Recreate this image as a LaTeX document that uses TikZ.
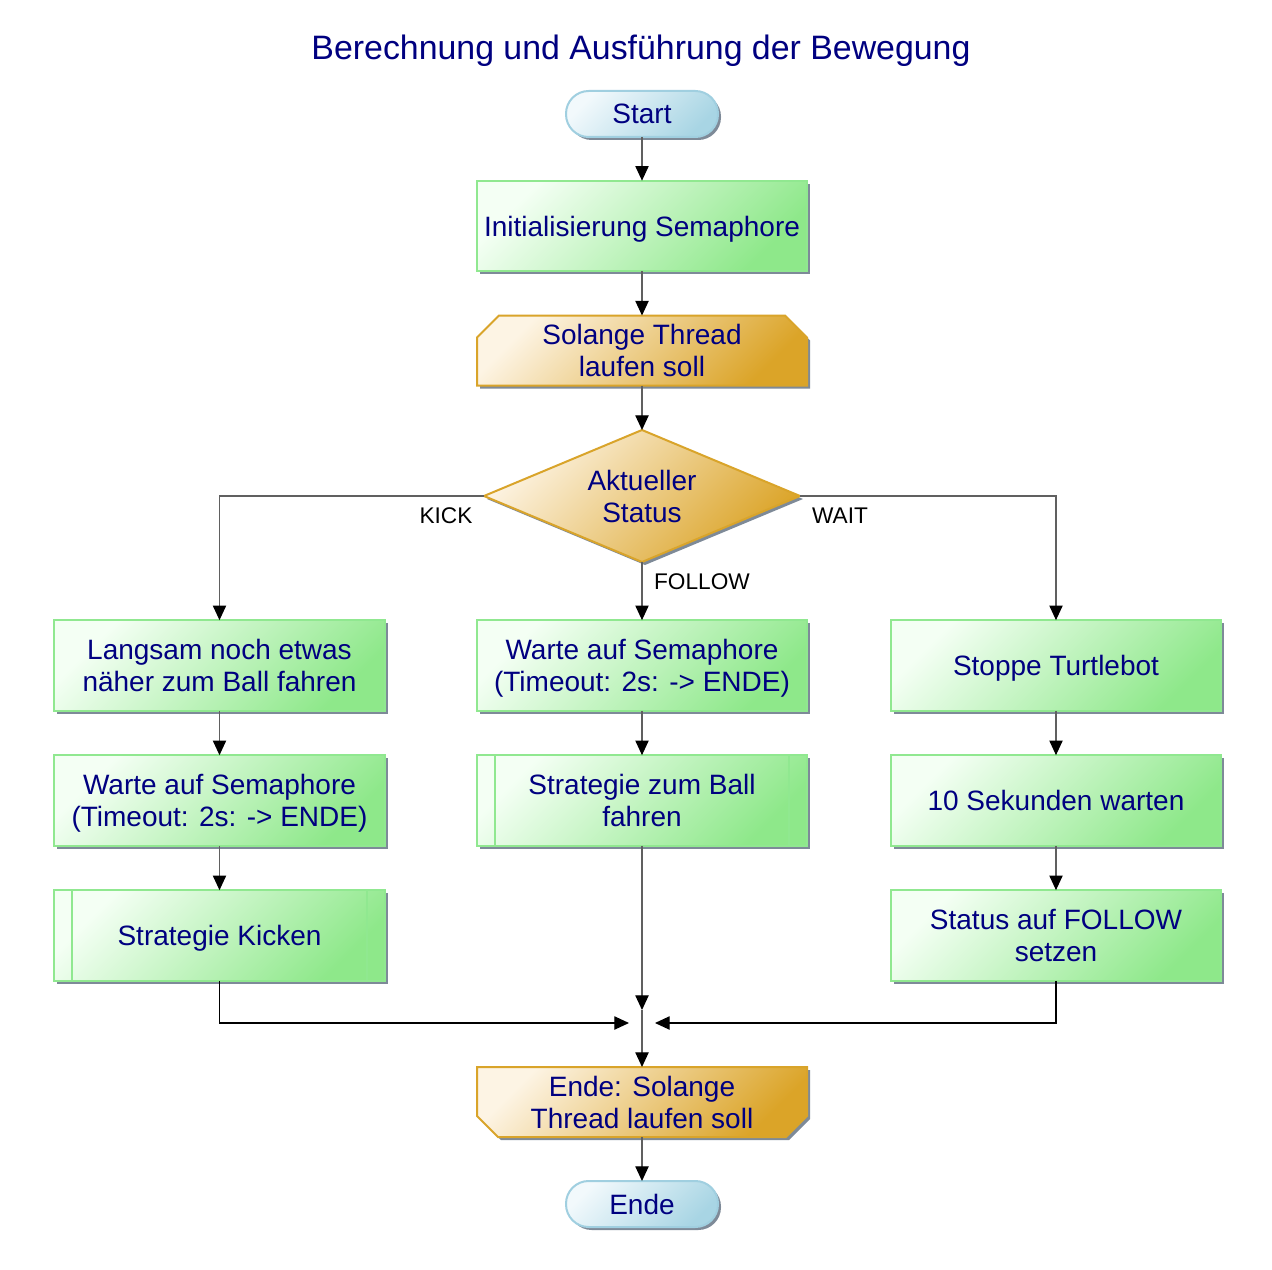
\documentclass[tikz,border=0pt]{standalone}
\usepackage{fontspec}
\setmainfont{Liberation Sans}
\usetikzlibrary{shapes.geometric,arrows.meta,shadows,calc}
\definecolor{txt}{HTML}{000080}
\definecolor{gbord}{HTML}{90E890}
\definecolor{glight}{HTML}{F4FFF4}
\definecolor{gdark}{HTML}{8EE88A}
\definecolor{obord}{HTML}{D9A42A}
\definecolor{olight}{HTML}{FDF4E4}
\definecolor{odark}{HTML}{DBA428}
\definecolor{bbord}{HTML}{A0CFE0}
\definecolor{blight}{HTML}{F2F9FC}
\definecolor{bdark}{HTML}{A8D5E4}
\definecolor{shad}{HTML}{7E8A98}
\definecolor{conn}{HTML}{606060}
\tikzset{
  boxfont/.style={font=\fontsize{21pt}{24pt}\selectfont, text=txt, align=center, text depth=0pt},
  shad/.style={drop shadow={shadow xshift=2.25pt, shadow yshift=-2.25pt, fill=shad, opacity=1}},
  procbox/.style={boxfont, rectangle, draw=gbord, line width=1.5pt,
    top color=glight, bottom color=gdark, shading angle=45,
    minimum width=248pt, minimum height=68pt, inner sep=2pt, outer sep=0pt, shad},
  termbox/.style={boxfont, rectangle, rounded corners=17pt, draw=bbord, line width=1.5pt,
    top color=blight, bottom color=bdark, shading angle=45,
    minimum width=114pt, minimum height=34.5pt, inner sep=2pt, outer sep=0pt, shad},
  loopnode/.style={boxfont, rectangle, minimum width=247.5pt, minimum height=52.5pt,
    inner sep=2pt, outer sep=0pt},
  loopshape/.style={preaction={fill=shad, transform canvas={shift={(2.25pt,-2.25pt)}}},
    draw=obord, line width=1.5pt, top color=olight, bottom color=odark, shading angle=45},
  decbox/.style={boxfont, diamond, draw=obord, line width=1.5pt,
    top color=olight, bottom color=odark, shading angle=45,
    aspect=2.4, minimum width=237pt, minimum height=99pt, inner sep=0pt, outer sep=0pt, shad},
  lbl/.style={font=\fontsize{17pt}{20pt}\selectfont, text=black, text depth=0pt},
  line/.style={draw=conn, line width=0.9pt},
  arr/.style={line, -{Triangle[length=11pt,width=10pt,color=black]}},
}
\begin{document}
\begin{tikzpicture}[x=0.75pt,y=-0.75pt]
\useasboundingbox (0,0) rectangle (1272,1270);
\fill[white] (0,0) rectangle (1272,1270);

\node[font=\fontsize{25.4pt}{30pt}\selectfont, text=txt, text depth=0pt] (title) at (641,47) {Berechnung und Ausführung der Bewegung};

% loop shapes (drawn below their text nodes)
\path[loopshape] (477,385.5) -- (477,337.5) -- (499,315.5) -- (785,315.5) -- (807,337.5) -- (807,385.5) -- cycle;
\path[loopshape] (477,1067) -- (807,1067) -- (807,1116) -- (786,1137) -- (498,1137) -- (477,1116) -- cycle;

\node[termbox] (start) at (642,114) {Start};
\node[procbox] (init) at (642,226) {Initialisierung Semaphore};
\node[loopnode] (loop) at (642,350.5) {Solange Thread\\laufen soll};
\node[decbox] (dec) at (642,496) {Aktueller\\Status};

\node[procbox] (k1) at (219.5,665.5) {Langsam noch etwas\\näher zum Ball fahren};
\node[procbox] (k2) at (219.5,800.5) {Warte auf Semaphore\\(Timeout: 2s: -> ENDE)};
\node[procbox] (k3) at (219.5,935.5) {Strategie Kicken};

\node[procbox] (f1) at (642,665.5) {Warte auf Semaphore\\(Timeout: 2s: -> ENDE)};
\node[procbox] (f2) at (642,800.5) {Strategie zum Ball\\fahren};

\node[procbox] (w1) at (1056,665.5) {Stoppe Turtlebot};
\node[procbox] (w2) at (1056,800.5) {10 Sekunden warten};
\node[procbox] (w3) at (1056,935.5) {Status auf FOLLOW\\setzen};

\node[loopnode] (endloop) at (642,1102) {Ende: Solange\\Thread laufen soll};
\node[termbox] (ende) at (642,1204) {Ende};

% subroutine inner bars
\foreach \n in {k3,f2}{
  \draw[gbord, line width=1.5pt] ($(\n.north west)+(18,0)$) -- ($(\n.south west)+(18,0)$);
  \draw[gbord, line width=1.5pt] ($(\n.north east)+(-18,0)$) -- ($(\n.south east)+(-18,0)$);
}

\coordinate (m) at (642,1023);

\draw[arr] (start) -- (init);
\draw[arr] (init) -- (loop);
\draw[arr] (loop) -- (dec);
\draw[arr] (dec.west) -| (k1.north);
\draw[arr] (dec.east) -| (w1.north);
\draw[arr] (dec.south) -- (f1.north);
\draw[arr] (k1) -- (k2);
\draw[arr] (k2) -- (k3);
\draw[arr] (f1) -- (f2);
\draw[arr] (w1) -- (w2);
\draw[arr] (w2) -- (w3);
\draw[arr] (f2.south) -- ($(m)+(0,-13)$);
\draw[line] ($(m)+(0,-13)$) -- (m);
\draw[arr] (m) -- (endloop.north);
\draw[arr, draw=black] (k3.south) |- ($(m)+(-13,0)$);
\draw[arr, draw=black] (w3.south) |- ($(m)+(13,0)$);
\draw[arr] (endloop) -- (ende);

\node[lbl] (lk) at (446,516) {KICK};
\node[lbl] (lw) at (840,516) {WAIT};
\node[lbl] (lf) at (702,582) {FOLLOW};
\end{tikzpicture}
\end{document}
